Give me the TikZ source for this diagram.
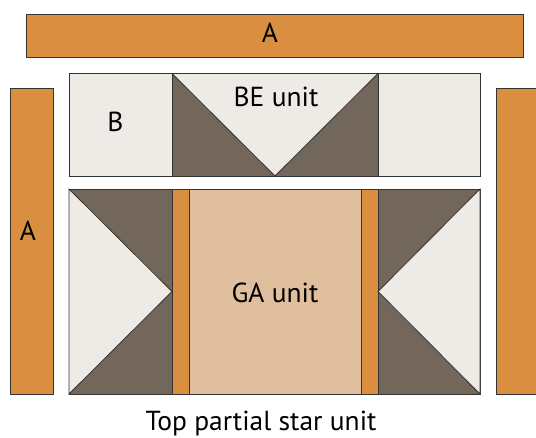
\documentclass[tikz,border=0pt]{standalone}
\usepackage{fontspec}
\setmainfont{PT Sans}
\usepackage{tikz}
\usetikzlibrary{positioning}
\definecolor{stripcol}{HTML}{D98F3F}
\definecolor{lightcol}{HTML}{EEEBE6}
\definecolor{darkcol}{HTML}{72675A}
\definecolor{centrecol}{HTML}{E0BF9E}
\tikzstyle{piece}= [draw=black!80, line width=0.8pt]
\tikzstyle{piecetext}= [font=\fontsize{27.5}{30}\selectfont, inner sep=0pt, anchor=base]

\begin{document}
\begin{tikzpicture}[
		x=1pt,y=-1pt,
		captext/.style={
		font=\fontsize{27.5}{30}\selectfont, inner sep=0pt, anchor=base,
		}
	]
  \useasboundingbox (0,0) rectangle (536,437);

  % borders
  \filldraw[piece,fill=stripcol] (26,14) rectangle (523,57);
  \filldraw[piece,fill=stripcol] (10,88) rectangle (53,394);
  \filldraw[piece,fill=stripcol] (496,88) rectangle (545,394);

  % BE row
  \filldraw[piece,fill=lightcol] (69,73.5) rectangle (172,176);
  \filldraw[piece,fill=darkcol] (172,73.5) rectangle (378,176);
  \filldraw[piece,fill=lightcol] (172,73.5) -- (378,73.5) -- (275,176) -- cycle;
  \filldraw[piece,fill=lightcol] (378,73.5) rectangle (480,176);

  % GA row
  \filldraw[piece,fill=darkcol] (69,189) rectangle (172,394);
  \filldraw[piece,fill=lightcol] (69,189) -- (172,291.5) -- (69,394) -- cycle;
  \filldraw[piece,fill=stripcol] (172,189) rectangle (189,394);
  \filldraw[piece,fill=centrecol] (189,189) rectangle (361,394);
  \filldraw[piece,fill=stripcol] (361,189) rectangle (378,394);
  \filldraw[piece,fill=darkcol] (378,189) rectangle (480,394);
  \filldraw[piece,fill=lightcol] (480,189) -- (378,291.5) -- (480,394) -- cycle;

  \node[piecetext] (atop) at (270,42) {A};
  \node[piecetext] (aleft) at (28,240) {A};
  \node[piecetext] (b) at (115.5,131) {B};
  \node[piecetext] (be) at (276,106.5) {BE unit};
  \node[piecetext] (ga) at (275,302.5) {GA unit};
  \node[captext] (cap) at (261,430) {Top partial star unit};
\end{tikzpicture}
\end{document}
